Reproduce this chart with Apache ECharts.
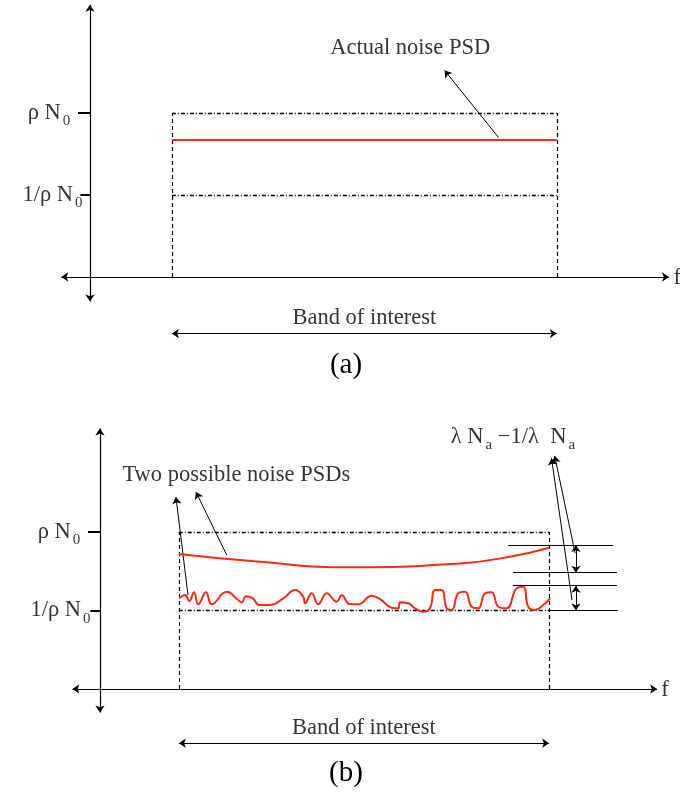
<!DOCTYPE html>
<html>
<head>
<meta charset="utf-8">
<script src="https://cdn.jsdelivr.net/npm/echarts@6/dist/echarts.min.js"></script>
<style>
html, body { margin: 0; padding: 0; background: #fff; }
#cn { width: 680px; height: 794px; }
</style>
</head>
<body>
<div id="cn"></div>
<script>
'use strict';

// levels in units of N0 (y) and frequency in arbitrary units (x)
const levelHi = 2;          // rho N0
const levelLo = 1;          // 1/rho N0
const band = [1, 5.7];      // band of interest
const actualPsd = 1.67;     // panel (a) actual noise PSD

// panel (b) smooth PSD
const smoothF = [1.0, 2.03, 3.13, 4.57, 5.2, 5.7];
const smoothPsd = [1.72, 1.62, 1.55, 1.60, 1.685, 1.80];

// panel (b) wiggly PSD
const wigglyF = [1.006, 1.079, 1.133, 1.193, 1.247, 1.345, 1.418, 1.608, 1.755, 1.798, 1.853, 1.938,
    2.022, 2.157, 2.326, 2.475, 2.580, 2.602, 2.687, 2.770, 2.877, 3.004, 3.067, 3.173, 3.278, 3.448,
    3.553, 3.702, 3.786, 3.807, 3.912, 3.997, 4.103, 4.188, 4.251, 4.336, 4.400, 4.463, 4.547, 4.632,
    4.717, 4.801, 4.886, 4.971, 5.055, 5.161, 5.288, 5.372, 5.435, 5.520, 5.626, 5.711];
const wigglyPsd = [1.155, 1.197, 1.121, 1.232, 1.079, 1.232, 1.079, 1.239, 1.134, 1.104, 1.181, 1.155,
    1.070, 1.070, 1.155, 1.261, 1.176, 1.092, 1.219, 1.079, 1.219, 1.112, 1.197, 1.079, 1.079, 1.189,
    1.146, 1.036, 1.028, 1.104, 1.092, 1.028, 0.985, 1.028, 1.261, 1.261, 1.028, 1.006, 1.219, 1.239,
    1.048, 1.028, 1.219, 1.232, 1.048, 1.028, 1.283, 1.303, 1.048, 1.006, 1.070, 1.155];

// lambda N_a bounds (panel b)
const lambdaLevels = [1.834, 1.482, 1.316, 1.0];

const fRange = [-0.35, 7.07];
const psdRange = [-1, 3.32];
const yAxisTop = 3.32;
const yAxisBottom = -0.3;

const strFont = '"Liberation Serif", "DejaVu Serif", serif';
const strRed = '#ff2a14';
const fs = 22.5;

const grids = [
    { left: 61.3, width: 607.7, top: 4.8, height: 354.2 },
    { left: 72.4, width: 584.7, top: 428.4, height: 339.1 }
];

const seg = (x1, y1, x2, y2) => ({ coords: [[x1, y1], [x2, y2]] });

const linesSeries = (gi, data, style, symbol) => ({
    type: 'lines',
    coordinateSystem: 'cartesian2d',
    xAxisIndex: gi,
    yAxisIndex: gi,
    silent: true,
    symbol: symbol || 'none',
    symbolSize: 7,
    lineStyle: Object.assign({ color: '#000', width: 1, opacity: 1 }, style),
    data: data
});

const textSeries = (gi, items) => ({
    type: 'scatter',
    xAxisIndex: gi,
    yAxisIndex: gi,
    silent: true,
    clip: false,
    symbolSize: 0,
    data: items.map(it => ({
        value: [it.x, it.y],
        label: {
            show: true,
            position: [0, 0],
            formatter: it.text,
            align: it.align || 'center',
            verticalAlign: 'middle',
            color: '#000',
            fontFamily: strFont,
            fontSize: fs,
            rich: {
                m: { fontFamily: strFont, fontSize: fs, color: '#000' },
                s: { fontFamily: strFont, fontSize: 15, color: '#000', padding: [17, 0, 0, 2] }
            }
        }
    }))
});

// common frame for each panel
const frameSeries = (gi, tickLen, labelHiX, labelLoX) => [
    // axes with arrows at both ends
    linesSeries(gi, [
        seg(0, yAxisBottom, 0, yAxisTop),
        seg(fRange[0], 0, fRange[1], 0)
    ], { width: 1.2 }, ['arrow', 'arrow']),
    // ticks
    linesSeries(gi, [
        seg(-tickLen, levelHi, 0, levelHi),
        seg(-tickLen * 0.8, levelLo, 0, levelLo)
    ], { width: 2 }),
    // band edges
    linesSeries(gi, [
        seg(band[0], 0, band[0], levelHi),
        seg(band[1], 0, band[1], levelHi)
    ], { type: [4, 3], width: 1.2 }),
    // level bounds
    linesSeries(gi, [
        seg(band[0], levelHi, band[1], levelHi),
        seg(band[0], levelLo, band[1], levelLo)
    ], { type: [4, 2, 1, 2], width: 1.4 }),
    // band of interest arrow
    linesSeries(gi, [seg(band[0], -0.69, band[1], -0.69)], { width: 1 }, ['arrow', 'arrow']),
    textSeries(gi, [
        { x: (band[0] + band[1]) / 2, y: -0.5, text: 'Band of interest' },
        { x: 7.17, y: -0.01, text: 'f' },
        { x: labelHiX, y: levelHi, text: '{m|ρ N}{s|0}', align: 'right' },
        { x: labelLoX, y: levelLo, text: '{m|1/ρ N}{s|0}', align: 'right' }
    ])
];

const series = [
    ...frameSeries(0, 0.146, -0.24, -0.09),
    {
        type: 'line',
        xAxisIndex: 0,
        yAxisIndex: 0,
        silent: true,
        symbol: 'none',
        lineStyle: { color: strRed, width: 2 },
        data: band.map(f => [f, actualPsd])
    },
    linesSeries(0, [seg(4.99, 1.70, 4.33, 2.52)], { width: 1 }, ['none', 'arrow']),
    textSeries(0, [{ x: 3.91, y: 2.79, text: 'Actual noise PSD' }]),

    ...frameSeries(1, 0.152, -0.25, -0.12),
    {
        type: 'line',
        xAxisIndex: 1,
        yAxisIndex: 1,
        silent: true,
        symbol: 'none',
        smooth: true,
        lineStyle: { color: strRed, width: 2 },
        data: smoothF.map((f, i) => [f, smoothPsd[i]])
    },
    {
        type: 'line',
        xAxisIndex: 1,
        yAxisIndex: 1,
        silent: true,
        symbol: 'none',
        smooth: 0.45,
        lineStyle: { color: strRed, width: 2 },
        data: wigglyF.map((f, i) => [f, wigglyPsd[i]])
    },
    linesSeries(1, [
        seg(1.117, 1.197, 0.964, 2.446),
        seg(1.608, 1.707, 1.218, 2.51),
        seg(5.99, 1.134, 5.73, 2.94),
        seg(6.03, 1.73, 5.77, 2.97)
    ], { width: 1 }, ['none', 'arrow']),
    linesSeries(1, [
        seg(5.18, lambdaLevels[0], 6.51, lambdaLevels[0]),
        seg(5.24, lambdaLevels[1], 6.56, lambdaLevels[1]),
        seg(5.24, lambdaLevels[2], 6.56, lambdaLevels[2]),
        seg(band[1], lambdaLevels[3], 6.57, lambdaLevels[3])
    ], { width: 1.2 }),
    linesSeries(1, [
        seg(6.04, lambdaLevels[0], 6.04, lambdaLevels[1]),
        seg(6.04, lambdaLevels[2], 6.04, lambdaLevels[3])
    ], { width: 1 }, ['arrow', 'arrow']),
    textSeries(1, [
        { x: 1.73, y: 2.73, text: 'Two possible noise PSDs' },
        { x: 5.24, y: 3.21, text: '{m|λ N}{s|a}{m| −1/λ  N}{s|a}' }
    ])
];

const option = {
    animation: false,
    grid: grids,
    xAxis: grids.map((g, i) => ({ type: 'value', gridIndex: i, show: false, min: fRange[0], max: fRange[1] })),
    yAxis: grids.map((g, i) => ({ type: 'value', gridIndex: i, show: false, min: psdRange[0], max: psdRange[1] })),
    graphic: [
        { type: 'text', x: 346, y: 365, style: { text: '(a)', font: '29px ' + strFont, fill: '#000', align: 'center', verticalAlign: 'middle' } },
        { type: 'text', x: 346, y: 773, style: { text: '(b)', font: '29px ' + strFont, fill: '#000', align: 'center', verticalAlign: 'middle' } }
    ],
    series: series
};

const chart = echarts.init(document.getElementById('cn'), null, { renderer: 'canvas' });
chart.setOption(option);
</script>
</body>
</html>
